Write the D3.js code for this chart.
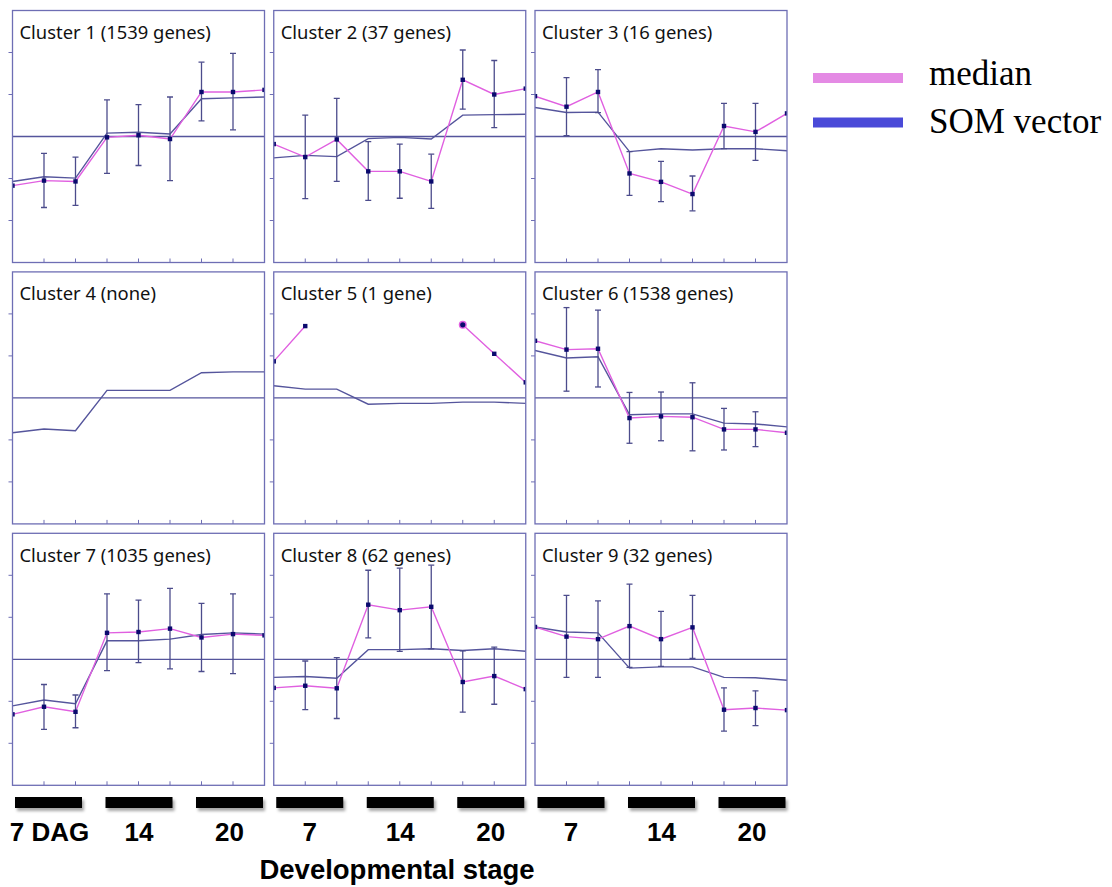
<!DOCTYPE html>
<html>
<head>
<meta charset="utf-8">
<script src="https://cdn.jsdelivr.net/npm/d3@7.9.0/dist/d3.min.js"></script>
<style>
  body { margin: 0; background: #fff; }
  svg { display: block; }
</style>
</head>
<body>
<svg id="chart" width="1112" height="887"></svg>
<script>
// Cluster titles (row by row)
const clusterTitles = [
  "Cluster 1 (1539 genes)", "Cluster 2 (37 genes)", "Cluster 3 (16 genes)",
  "Cluster 4 (none)", "Cluster 5 (1 gene)", "Cluster 6 (1538 genes)",
  "Cluster 7 (1035 genes)", "Cluster 8 (62 genes)", "Cluster 9 (32 genes)"
];

// 9 samples per cluster: 3 stages x 3 replicates
const sampleIndex = [0, 1, 2, 3, 4, 5, 6, 7, 8];
const stages = ["7", "14", "20"];
const stageLabels = ["7 DAG", "14", "20"];

// Median expression of each cluster (null = no value)
const medianValues = [
  [-1.17, -1.05, -1.07, -0.02, 0.03, -0.06, 1.06, 1.06, 1.11],
  [-0.18, -0.49, -0.07, -0.83, -0.83, -1.07, 1.35, 1.00, 1.14],
  [0.96, 0.71, 1.06, -0.88, -1.08, -1.37, 0.25, 0.11, 0.55],
  [null, null, null, null, null, null, null, null, null],
  [0.87, 1.71, null, null, null, null, 1.74, 1.05, 0.37],
  [1.36, 1.15, 1.17, -0.48, -0.44, -0.46, -0.75, -0.75, -0.83],
  [-1.31, -1.13, -1.25, 0.63, 0.65, 0.73, 0.52, 0.60, 0.57],
  [-0.68, -0.63, -0.69, 1.30, 1.17, 1.25, -0.54, -0.40, -0.71],
  [0.77, 0.54, 0.48, 0.79, 0.48, 0.76, -1.20, -1.16, -1.21]
];

// SOM codebook vector of each cluster
const somValues = [
  [-1.07, -0.96, -0.99, 0.08, 0.10, 0.06, 0.90, 0.92, 0.94],
  [-0.51, -0.45, -0.48, -0.05, -0.02, -0.06, 0.51, 0.52, 0.53],
  [0.69, 0.57, 0.58, -0.36, -0.29, -0.32, -0.29, -0.29, -0.34],
  [-0.83, -0.74, -0.78, 0.18, 0.18, 0.18, 0.60, 0.62, 0.62],
  [0.29, 0.21, 0.21, -0.15, -0.13, -0.13, -0.10, -0.10, -0.13],
  [1.13, 0.95, 0.98, -0.40, -0.38, -0.38, -0.60, -0.62, -0.69],
  [-1.11, -0.97, -1.06, 0.44, 0.44, 0.48, 0.59, 0.63, 0.60],
  [-0.43, -0.41, -0.45, 0.23, 0.23, 0.25, 0.21, 0.25, 0.19],
  [0.77, 0.65, 0.63, -0.21, -0.18, -0.18, -0.43, -0.44, -0.50]
];

// Error bar ends (upper / lower)
const errTop = [
  [null, -0.40, -0.49, 0.87, 0.76, 0.94, 1.77, 1.98, null],
  [null, 0.51, 0.91, -0.12, -0.18, -0.42, 2.06, 1.81, null],
  [null, 1.40, 1.59, -0.36, -0.59, -0.94, 0.79, 0.79, null],
  [null, null, null, null, null, null, null, null, null],
  [null, null, null, null, null, null, null, null, null],
  [null, 2.15, 2.09, 0.13, 0.14, 0.36, -0.25, -0.33, null],
  [null, -0.60, -0.85, 1.56, 1.41, 1.69, 1.33, 1.56, null],
  [null, -0.04, 0.04, 2.12, 2.17, 2.24, 0.20, 0.29, null],
  [null, 1.52, 1.39, 1.79, 1.14, 1.52, -0.68, -0.75, null]
];
const errBottom = [
  [null, -1.69, -1.64, -0.88, -0.69, -1.05, 0.37, 0.16, null],
  [null, -1.48, -1.07, -1.52, -1.47, -1.71, 0.65, 0.21, null],
  [null, 0.02, 0.57, -1.40, -1.55, -1.77, -0.29, -0.57, null],
  [null, null, null, null, null, null, null, null, null],
  [null, null, null, null, null, null, null, null, null],
  [null, 0.16, 0.26, -1.08, -1.02, -1.26, -1.24, -1.16, null],
  [null, -1.67, -1.63, -0.27, -0.08, -0.23, -0.29, -0.34, null],
  [null, -1.20, -1.41, 0.51, 0.19, 0.25, -1.26, -1.07, null],
  [null, -0.43, -0.43, -0.19, -0.17, 0.02, -1.71, -1.58, null]
];

const yTicks = [-2, -1, 1, 2];
const legendLabels = ["median", "SOM vector"];

// Layout
const panelW = 252, panelH = 252;
const gridX = 12.5, gridY = 10.5, stepX = 261.25, stepY = 261.4;
const frameColor = "#6e6eb4";
const somColor = "#55559c";
const medianColor = "#e060e0";
const pointColor = "#0a0a6e";
const errColor = "#4c4c8c";

const svg = d3.select("#chart");

// Shadow for the stage bars
svg.append("defs").append("filter")
  .attr("id", "shadow")
  .attr("x", "-10%").attr("y", "-50%").attr("width", "130%").attr("height", "250%")
  .append("feDropShadow")
  .attr("dx", 2).attr("dy", 3).attr("stdDeviation", 1.5)
  .attr("flood-color", "#000").attr("flood-opacity", 0.35);

const x = d3.scaleLinear().domain([0, 8]).range([0, panelW]);
const y = d3.scaleLinear().domain([-3, 3]).range([panelH, 0]);

const somLine = d3.line().x((d, i) => x(i)).y(d => y(d));
const medianLine = d3.line()
  .defined(d => d != null)
  .x((d, i) => x(i)).y(d => y(d));

clusterTitles.forEach((title, k) => {
  const col = k % 3, row = Math.floor(k / 3);
  const g = svg.append("g")
    .attr("transform", `translate(${gridX + col * stepX},${gridY + row * stepY})`);

  // Clip marks to the panel
  svg.select("defs").append("clipPath").attr("id", `clip${k}`)
    .append("rect").attr("width", panelW).attr("height", panelH);

  // Left ticks (outside) and bottom ticks (inside)
  g.selectAll(".ytick").data(yTicks).join("line")
    .attr("x1", -4).attr("x2", 0)
    .attr("y1", d => y(d)).attr("y2", d => y(d))
    .attr("stroke", frameColor).attr("stroke-width", 1);
  g.selectAll(".xtick").data(sampleIndex.slice(1, 8)).join("line")
    .attr("x1", d => x(d)).attr("x2", d => x(d))
    .attr("y1", panelH).attr("y2", panelH - 4)
    .attr("stroke", frameColor).attr("stroke-width", 1);

  const plot = g.append("g").attr("clip-path", `url(#clip${k})`);

  // Zero line
  plot.append("line")
    .attr("x1", 0).attr("x2", panelW)
    .attr("y1", y(0)).attr("y2", y(0))
    .attr("stroke", somColor).attr("stroke-width", 1.3);

  // SOM vector
  plot.append("path")
    .attr("d", somLine(somValues[k]))
    .attr("fill", "none").attr("stroke", somColor).attr("stroke-width", 1.4);

  // Median
  const med = medianValues[k];
  plot.append("path")
    .attr("d", medianLine(med))
    .attr("fill", "none").attr("stroke", medianColor).attr("stroke-width", 1.4);

  // Error bars
  const errs = sampleIndex.filter(i => errTop[k][i] != null);
  errs.forEach(i => {
    const eg = plot.append("g").attr("stroke", errColor).attr("stroke-width", 1.3);
    eg.append("line").attr("x1", x(i)).attr("x2", x(i))
      .attr("y1", y(errTop[k][i])).attr("y2", y(errBottom[k][i]));
    [errTop[k][i], errBottom[k][i]].forEach(v => {
      eg.append("line").attr("x1", x(i) - 3).attr("x2", x(i) + 3)
        .attr("y1", y(v)).attr("y2", y(v));
    });
  });

  // Median points (a point that starts a broken segment is drawn bigger)
  sampleIndex.filter(i => med[i] != null).forEach(i => {
    const lone = i > 0 && med[i - 1] == null;
    if (lone) {
      plot.append("circle").attr("cx", x(i)).attr("cy", y(med[i])).attr("r", 4)
        .attr("fill", medianColor);
      plot.append("circle").attr("cx", x(i)).attr("cy", y(med[i])).attr("r", 2.6)
        .attr("fill", pointColor);
    } else {
      plot.append("rect")
        .attr("x", x(i) - 2.2).attr("y", y(med[i]) - 2.2)
        .attr("width", 4.4).attr("height", 4.4)
        .attr("fill", pointColor);
    }
  });

  // Frame
  g.append("rect")
    .attr("width", panelW).attr("height", panelH)
    .attr("fill", "none").attr("stroke", frameColor).attr("stroke-width", 1.3);

  // Title
  g.append("text")
    .attr("x", 7).attr("y", 28.5)
    .attr("font-family", "'Noto Sans', sans-serif")
    .attr("font-size", 18.4)
    .attr("fill", "#111")
    .text(title);
});

// Stage bars and labels under each column
const stageX = d3.scalePoint().domain(stages).range([36, 217]);
const barW = 67;
d3.range(3).forEach(col => {
  const g = svg.append("g").attr("transform", `translate(${gridX + col * stepX},0)`);
  g.selectAll("rect").data(stages).join("rect")
    .attr("x", d => stageX(d) - barW / 2).attr("y", 797)
    .attr("width", barW).attr("height", 11)
    .attr("fill", "#000")
    .attr("filter", "url(#shadow)");
  g.selectAll("text").data(stages).join("text")
    .attr("x", d => stageX(d) + (col === 0 && d === "7" ? 1 : 0))
    .attr("y", 841)
    .attr("text-anchor", "middle")
    .attr("font-family", "'Liberation Sans', Arial, sans-serif")
    .attr("font-weight", "bold")
    .attr("font-size", 26)
    .attr("fill", "#000")
    .text((d, i) => col === 0 ? stageLabels[i] : d);
});

svg.append("text")
  .attr("x", 397).attr("y", 879)
  .attr("text-anchor", "middle")
  .attr("font-family", "'Liberation Sans', Arial, sans-serif")
  .attr("font-weight", "bold")
  .attr("font-size", 27.5)
  .attr("fill", "#000")
  .text("Developmental stage");

// Legend
const legendColors = ["#e48ae4", "#4a4ad8"];
const legend = svg.append("g");
legendLabels.forEach((label, i) => {
  legend.append("rect")
    .attr("x", 813).attr("y", 73 + i * 44.5)
    .attr("width", 90).attr("height", 10)
    .attr("fill", legendColors[i]);
  legend.append("text")
    .attr("x", 929).attr("y", 84.5 + i * 48)
    .attr("font-family", "'Liberation Serif', 'Times New Roman', serif")
    .attr("font-size", 35)
    .attr("fill", "#000")
    .text(label);
});
</script>
</body>
</html>
